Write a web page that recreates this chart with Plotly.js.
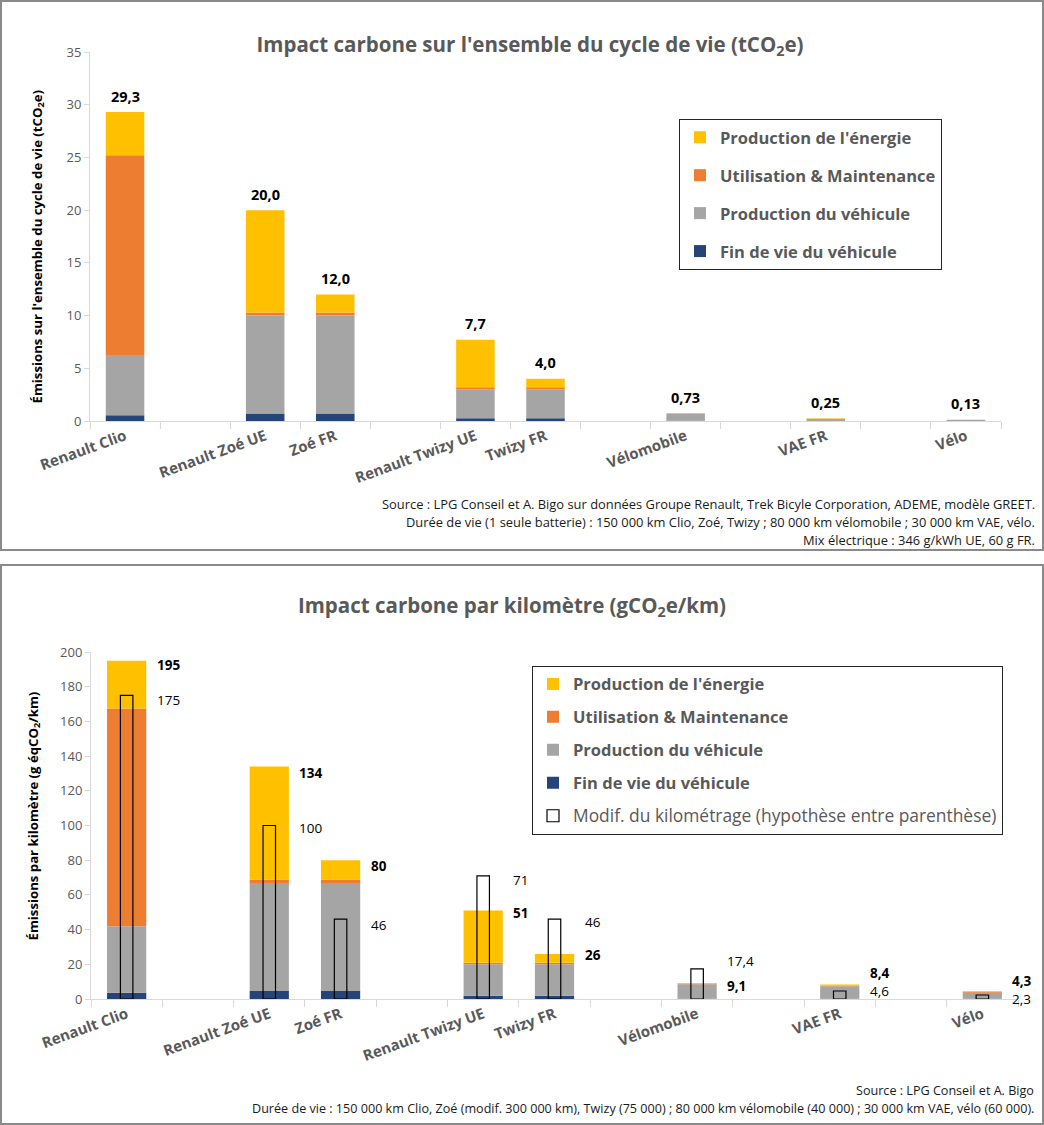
<!DOCTYPE html>
<html>
<head>
<meta charset="utf-8">
<script src="https://cdn.plot.ly/plotly-3.0.1.min.js"></script>
<style>
  body { margin: 0; background: #fff; }
  .chart { position: absolute; left: 0; width: 1044px; }
  .frame { position: absolute; left: 0; width: 1044px; box-sizing: border-box;
           border: 2px solid #8a8a8a; pointer-events: none; }
</style>
</head>
<body>
<div id="chartLife" class="chart" style="top:0;height:551px"></div>
<div class="frame" style="top:0;height:551px"></div>
<div id="chartKm" class="chart" style="top:564px;height:561px"></div>
<div class="frame" style="top:564px;height:561px"></div>

<script>
// Véhicules comparés
const vehicles = ['Renault Clio', 'Renault Zoé UE', 'Zoé FR', 'Renault Twizy UE', 'Twizy FR', 'Vélomobile', 'VAE FR', 'Vélo'];
// Ordre de l'axe avec les espaces vides entre les familles
const categorySlots = ['Renault Clio', ' ', 'Renault Zoé UE', 'Zoé FR', '  ', 'Renault Twizy UE', 'Twizy FR', '   ', 'Vélomobile', '    ', 'VAE FR', '     ', 'Vélo'];

// Cycle de vie complet (tCO2e)
const lifeEndOfLife   = [0.55, 0.7, 0.7, 0.25, 0.25, 0.02, 0.01, 0.01];
const lifeVehicleProd = [5.7, 9.3, 9.3, 2.75, 2.75, 0.64, 0.2, 0.1];
const lifeUse         = [18.95, 0.3, 0.3, 0.2, 0.2, 0.06, 0.01, 0.02];
const lifeEnergy      = [4.1, 9.7, 1.7, 4.5, 0.8, 0.01, 0.03, 0];
const lifeTotalLabels = ['29,3', '20,0', '12,0', '7,7', '4,0', '0,73', '0,25', '0,13'];

// Par kilomètre (gCO2e/km)
const kmEndOfLife   = [3.6, 4.6, 4.6, 1.9, 1.9, 0.2, 0.1, 0.1];
const kmVehicleProd = [38.3, 62.3, 62.3, 18.2, 18.2, 8.3, 7.3, 3.5];
const kmUse         = [125.6, 1.9, 1.9, 0.8, 0.8, 0.5, 0.4, 0.7];
const kmEnergy      = [27.5, 65.2, 11.2, 30.1, 5.1, 0.1, 0.6, 0];
const kmTotalLabels = ['195', '134', '80', '51', '26', '9,1', '8,4', '4,3'];
const kmModified       = [175, 100, 46, 71, 46, 17.4, 4.6, 2.3];
const kmModifiedLabels = ['175', '100', '46', '71', '46', '17,4', '4,6', '2,3'];

const segmentNames  = ['Fin de vie du véhicule', 'Production du véhicule', 'Utilisation & Maintenance', "Production de l'énergie"];
const segmentColors = ['#264478', '#A5A5A5', '#ED7D31', '#FFC000'];

const FONT = '"Open Sans", Lato, sans-serif';
const GREY_TEXT = '#595959';
const AXIS_GREY = '#d9d9d9';

// Barres empilées à la main (base cumulée) pour pouvoir superposer les barres creuses
function buildStack(series) {
    const base = vehicles.map(() => 0);
    const traces = series.map((values, i) => {
        const trace = {
            type: 'bar',
            x: vehicles,
            y: values,
            base: base.slice(),
            width: 0.55,
            name: '<b>' + segmentNames[i] + '</b>',
            legendgroup: 'g' + i,
            legendrank: 4 - i,
            marker: { color: segmentColors[i], line: { width: 0 } },
            hoverinfo: 'skip'
        };
        values.forEach((v, j) => { base[j] += v; });
        return trace;
    });
    return { traces: traces, totals: base };
}

function xAxis() {
    return {
        type: 'category',
        categoryorder: 'array',
        categoryarray: categorySlots,
        range: [-0.5, categorySlots.length - 0.5],
        tickson: 'boundaries',
        ticks: 'outside',
        ticklen: 7,
        tickcolor: AXIS_GREY,
        showline: true,
        linecolor: AXIS_GREY,
        linewidth: 1,
        showgrid: false,
        tickangle: -20,
        tickfont: { family: FONT, size: 15, color: GREY_TEXT, weight: 'bold' },
        fixedrange: true
    };
}

function yAxis(max, step) {
    return {
        range: [0, max],
        dtick: step,
        showline: true,
        linecolor: AXIS_GREY,
        ticks: 'outside',
        ticklen: 5,
        tickcolor: AXIS_GREY,
        showgrid: false,
        zeroline: false,
        tickfont: { family: FONT, size: 13, color: GREY_TEXT },
        fixedrange: true
    };
}

function yTitle(text, xshift, yshift) {
    return {
        xref: 'paper', yref: 'paper', x: 0, y: 0.5,
        xanchor: 'center', yanchor: 'middle',
        xshift: xshift, yshift: yshift,
        textangle: -90, showarrow: false,
        text: '<b>' + text + '</b>',
        font: { family: FONT, size: 13.2, color: '#000' }
    };
}

function sourceNotes(lines, size, xshift, firstShift) {
    return lines.map((txt, i) => ({
        xref: 'paper', yref: 'paper', x: 1, y: 0,
        xanchor: 'right', yanchor: 'middle',
        xshift: xshift, yshift: firstShift - 18 * i,
        text: txt, showarrow: false,
        font: { family: FONT, size: size, color: '#1a1a1a' }
    }));
}

function legendBox(x, y, gap) {
    return {
        x: x, y: y,
        xanchor: 'left', yanchor: 'top',
        bgcolor: '#fff', bordercolor: '#262626', borderwidth: 1,
        font: { family: FONT, size: 16.5, color: GREY_TEXT },
        traceorder: 'grouped', tracegroupgap: gap
    };
}

function initLifeChart() {
    const stack = buildStack([lifeEndOfLife, lifeVehicleProd, lifeUse, lifeEnergy]);

    const annotations = [yTitle("Émissions sur l'ensemble du cycle de vie (tCO<sub>2</sub>e)", -53, -10)];
    vehicles.forEach((v, i) => {
        annotations.push({
            x: v, y: stack.totals[i], yshift: 16, showarrow: false,
            text: '<b>' + lifeTotalLabels[i] + '</b>',
            font: { family: FONT, size: 14.5, color: '#000' }
        });
    });
    sourceNotes([
        'Source : LPG Conseil et A. Bigo sur données Groupe Renault, Trek Bicyle Corporation, ADEME, modèle GREET.',
        'Durée de vie (1 seule batterie) : 150 000 km Clio, Zoé, Twizy ; 80 000 km vélomobile ; 30 000 km VAE, vélo.',
        'Mix électrique : 346 g/kWh UE, 60 g FR.'
    ], 12.9, 36, -83).forEach(a => annotations.push(a));

    const layout = {
        width: 1044, height: 551,
        margin: { l: 90, r: 43, t: 52, b: 130 },
        paper_bgcolor: 'rgba(0,0,0,0)',
        plot_bgcolor: '#fff',
        barmode: 'overlay',
        font: { family: FONT },
        title: {
            text: "<b>Impact carbone sur l'ensemble du cycle de vie (tCO<sub>2</sub>e)</b>",
            font: { family: FONT, size: 20.5, color: GREY_TEXT },
            xref: 'container', yref: 'container',
            x: 530 / 1044, xanchor: 'center',
            y: 1 - 45 / 551, yanchor: 'middle'
        },
        xaxis: xAxis(),
        yaxis: yAxis(35, 5),
        legend: legendBox((679 - 90) / 911, (421 - 119) / 369, 13.5),
        annotations: annotations
    };

    Plotly.newPlot('chartLife', stack.traces, layout, { staticPlot: true });
}

function initKmChart() {
    const stack = buildStack([kmEndOfLife, kmVehicleProd, kmUse, kmEnergy]);

    const modified = {
        type: 'bar',
        x: vehicles,
        y: kmModified,
        width: 0.175,
        name: '<span style="font-size:17.4px">Modif. du kilométrage (hypothèse entre parenthèse)</span>',
        legendgroup: 'g4',
        legendrank: 5,
        marker: { color: 'rgba(255,255,255,0)', line: { color: '#000', width: 1.2 } },
        hoverinfo: 'skip'
    };

    // décalages verticaux des étiquettes (comme dans l'original, pour éviter les chevauchements)
    const totalShift = [-4, -6, -6, -2, -1.5, -2.5, 11, 11];
    const modifShift = [-5, -2.5, -5.5, -4, -2.5, 7.5, 0, -4];

    const annotations = [yTitle('Émissions par kilomètre (g éqCO<sub>2</sub>/km)', -58, 9)];
    vehicles.forEach((v, i) => {
        annotations.push({
            x: v, y: stack.totals[i], xanchor: 'left', xshift: 28, yshift: totalShift[i],
            showarrow: false, text: '<b>' + kmTotalLabels[i] + '</b>',
            font: { family: FONT, size: 13.5, color: '#000' }
        });
        annotations.push({
            x: v, y: kmModified[i], xanchor: 'left', xshift: 28, yshift: modifShift[i],
            showarrow: false, text: kmModifiedLabels[i],
            font: { family: FONT, size: 13.5, color: '#000' }
        });
    });
    sourceNotes([
        'Source : LPG Conseil et A. Bigo',
        'Durée de vie : 150 000 km Clio, Zoé (modif. 300 000 km), Twizy (75 000) ; 80 000 km vélomobile (40 000) ; 30 000 km VAE, vélo (60 000).'
    ], 12.6, 18, -91).forEach(a => annotations.push(a));

    const layout = {
        width: 1044, height: 561,
        margin: { l: 91, r: 26, t: 88, b: 126 },
        paper_bgcolor: 'rgba(0,0,0,0)',
        plot_bgcolor: '#fff',
        barmode: 'overlay',
        font: { family: FONT },
        title: {
            text: '<b>Impact carbone par kilomètre (gCO<sub>2</sub>e/km)</b>',
            font: { family: FONT, size: 20.5, color: GREY_TEXT },
            xref: 'container', yref: 'container',
            x: 512 / 1044, xanchor: 'center',
            y: 1 - 42 / 561, yanchor: 'middle'
        },
        xaxis: xAxis(),
        yaxis: yAxis(200, 20),
        legend: legendBox((532 - 91) / 927, (999.3 - 666) / 347, 8.5),
        annotations: annotations
    };

    Plotly.newPlot('chartKm', stack.traces.concat([modified]), layout, { staticPlot: true });
}

document.addEventListener('DOMContentLoaded', function() {
    initLifeChart();
    initKmChart();
});
</script>
</body>
</html>
